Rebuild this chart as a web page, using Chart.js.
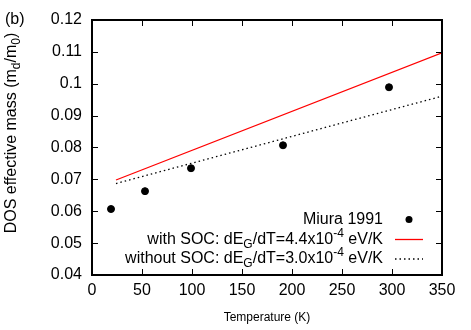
<!DOCTYPE html>
<html>
<head>
<meta charset="utf-8">
<script src="https://cdn.jsdelivr.net/npm/chart.js@4.4.0/dist/chart.umd.min.js"></script>
<style>
  html, body { margin: 0; padding: 0; background: #fff; }
  #wrap { width: 471px; height: 330px; }
</style>
</head>
<body>
<div id="wrap"><canvas id="mass-chart" width="471" height="330"></canvas></div>
<script>
// Miura 1991 measurements
const miuraT = [19, 53, 99, 191, 297];
const miuraMass = [0.0607, 0.0663, 0.0735, 0.0807, 0.0989];

// calculated lines
const socT = [24, 350];
const socMass = [0.0698, 0.1097];
const noSocT = [24, 350];
const noSocMass = [0.0687, 0.0961];

// axes
const xTicks = [0, 50, 100, 150, 200, 250, 300, 350];
const yTicks = [0.04, 0.05, 0.06, 0.07, 0.08, 0.09, 0.1, 0.11, 0.12];

const FONT = "'Liberation Sans', Arial, sans-serif";

const toPoints = (xs, ys) => xs.map((x, i) => ({ x: x, y: ys[i] }));

// legend rows, text pieces: [text, kind] kind: n normal, sub, sup
const legendRows = [
    { parts: [['Miura 1991', 'n']], ds: 0 },
    { parts: [['with SOC: dE', 'n'], ['G', 'sub'], ['/dT=4.4x10', 'n'], ['-4', 'sup'], [' eV/K', 'n']], ds: 1 },
    { parts: [['without SOC: dE', 'n'], ['G', 'sub'], ['/dT=3.0x10', 'n'], ['-4', 'sup'], [' eV/K', 'n']], ds: 2 },
];

function drawRich(ctx, parts, x, y, align) {
    const widths = parts.map(([t, k]) => {
        ctx.font = (k === 'n' ? 16 : 12) + 'px ' + FONT;
        return ctx.measureText(t).width;
    });
    const total = widths.reduce((a, b) => a + b, 0);
    let cx = align === 'right' ? x - total : (align === 'center' ? x - total / 2 : x);
    ctx.textAlign = 'left';
    ctx.textBaseline = 'middle';
    parts.forEach(([t, k], i) => {
        ctx.font = (k === 'n' ? 16 : 12) + 'px ' + FONT;
        const dy = k === 'sub' ? 5 : (k === 'sup' ? -6 : 0);
        ctx.fillText(t, cx, y + dy);
        cx += widths[i];
    });
}

const framePlugin = {
    id: 'frame',
    afterDatasetsDraw(chart) {
        const { ctx, chartArea: a, scales } = chart;
        ctx.save();
        // inward ticks on all four sides
        ctx.strokeStyle = '#000';
        ctx.lineWidth = 1;
        ctx.beginPath();
        xTicks.forEach(v => {
            const px = Math.round(scales.x.getPixelForValue(v)) + 0.5;
            ctx.moveTo(px, a.bottom); ctx.lineTo(px, a.bottom - 6);
            ctx.moveTo(px, a.top); ctx.lineTo(px, a.top + 6);
        });
        yTicks.forEach(v => {
            const py = Math.round(scales.y.getPixelForValue(v)) + 0.5;
            ctx.moveTo(a.left, py); ctx.lineTo(a.left + 6, py);
            ctx.moveTo(a.right, py); ctx.lineTo(a.right - 6, py);
        });
        ctx.stroke();
        // border
        ctx.lineWidth = 2;
        ctx.strokeRect(a.left, a.top, a.right - a.left, a.bottom - a.top);

        // legend
        ctx.fillStyle = '#000';
        const rowY = [219.5, 239.5, 259];
        legendRows.forEach((row, i) => {
            drawRich(ctx, row.parts, 383, rowY[i], 'right');
            const ds = chart.data.datasets[row.ds];
            if (row.ds === 0) {
                ctx.beginPath();
                ctx.arc(409, rowY[i], 3.5, 0, Math.PI * 2);
                ctx.fill();
            } else {
                ctx.beginPath();
                ctx.strokeStyle = ds.borderColor;
                ctx.lineWidth = ds.borderWidth;
                ctx.setLineDash(ds.borderDash || []);
                ctx.moveTo(395, rowY[i]); ctx.lineTo(423, rowY[i]);
                ctx.stroke();
                ctx.setLineDash([]);
            }
        });

        // panel label and y title
        ctx.fillStyle = '#000';
        ctx.font = '16px ' + FONT;
        ctx.textAlign = 'left';
        ctx.textBaseline = 'middle';
        ctx.fillText('(b)', 5, 19.5);

        ctx.translate(12, 133);
        ctx.rotate(-Math.PI / 2);
        drawRich(ctx, [['DOS effective mass (m', 'n'], ['d', 'sub'], ['/m', 'n'], ['0', 'sub'], [')', 'n']], 0, 0, 'center');
        ctx.restore();
    }
};

const config = {
    type: 'scatter',
    data: {
        datasets: [
            {
                label: 'Miura 1991',
                data: toPoints(miuraT, miuraMass),
                backgroundColor: '#000',
                borderColor: '#000',
                pointRadius: 3.5,
                pointHoverRadius: 3.5,
                showLine: false,
            },
            {
                label: 'with SOC',
                data: toPoints(socT, socMass),
                borderColor: 'rgb(255, 0, 0)',
                borderWidth: 1.3,
                pointRadius: 0,
                showLine: true,
            },
            {
                label: 'without SOC',
                data: toPoints(noSocT, noSocMass),
                borderColor: '#000',
                borderWidth: 1.3,
                borderDash: [1.5, 3],
                pointRadius: 0,
                showLine: true,
            }
        ]
    },
    options: {
        responsive: false,
        animation: false,
        events: [],
        layout: { padding: { left: 0, right: 29, top: 20, bottom: 0 } },
        plugins: {
            legend: { display: false },
            tooltip: { enabled: false },
        },
        scales: {
            x: {
                type: 'linear',
                min: 0,
                max: 350,
                afterBuildTicks: s => { s.ticks = xTicks.map(v => ({ value: v })); },
                afterFit: s => { s.height = 55; },
                ticks: { color: '#000', font: { family: FONT, size: 16 }, padding: 6, maxRotation: 0 },
                grid: { display: false, drawTicks: false },
                border: { display: false },
                title: {
                    display: true,
                    text: 'Temperature (K)',
                    color: '#000',
                    font: { family: FONT, size: 12 },
                    padding: { top: 0, bottom: 5 },
                },
            },
            y: {
                type: 'linear',
                min: 0.04,
                max: 0.12,
                afterBuildTicks: s => { s.ticks = yTicks.map(v => ({ value: v })); },
                afterFit: s => { s.width = 92; },
                ticks: {
                    color: '#000',
                    font: { family: FONT, size: 16 },
                    padding: 10,
                    callback: v => String(Number(v.toFixed(2))),
                },
                grid: { display: false, drawTicks: false },
                border: { display: false },
            }
        }
    },
    plugins: [framePlugin],
};

new Chart(document.getElementById('mass-chart').getContext('2d'), config);
</script>
</body>
</html>
